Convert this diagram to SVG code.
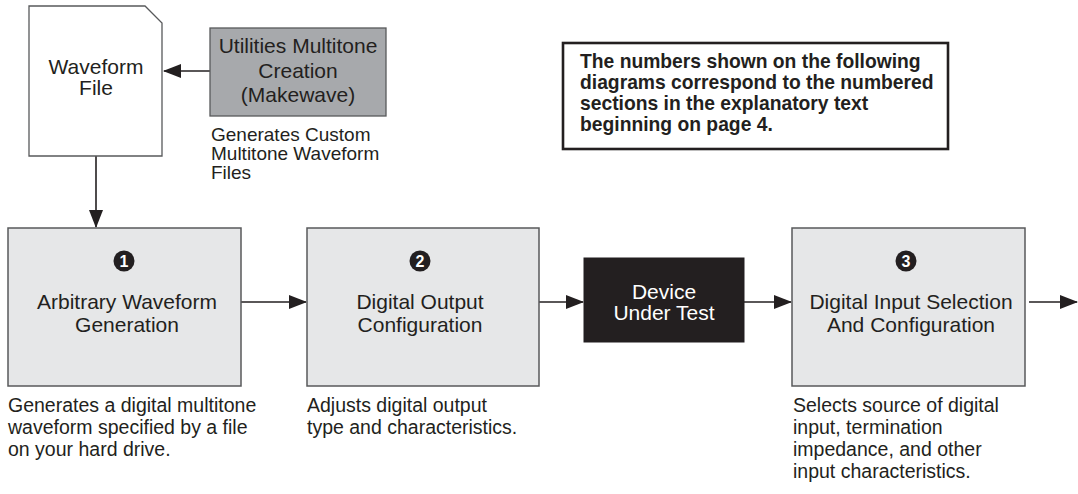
<svg xmlns="http://www.w3.org/2000/svg" width="1078" height="494" viewBox="0 0 1078 494">
<style>
.t{font-family:"Liberation Sans",Arial,Helvetica,sans-serif;fill:#231f20}
.title{font-size:21px;text-anchor:middle}
.cap{font-size:19.5px}
.box{fill:#e6e7e8;stroke:#58595b;stroke-width:1.5}
.ln{stroke:#231f20;stroke-width:1.6;fill:none}
.num{font-family:"Liberation Sans",Arial,sans-serif;font-size:16px;font-weight:bold;fill:#fff;text-anchor:middle}
</style>
<defs>
<marker id="ah" viewBox="0 0 18 14" refX="17" refY="7" markerWidth="18" markerHeight="14" markerUnits="userSpaceOnUse" orient="auto">
<path d="M0,0 L18,7 L0,14 Z" fill="#231f20"/>
</marker>
</defs>
<rect width="1078" height="494" fill="#fff"/>

<g id="connectors">
<line class="ln" x1="210" y1="71" x2="164" y2="71" marker-end="url(#ah)"/>
<line class="ln" x1="96" y1="156" x2="96" y2="227" marker-end="url(#ah)"/>
<line class="ln" x1="241" y1="302" x2="306" y2="302" marker-end="url(#ah)"/>
<line class="ln" x1="539" y1="302" x2="583" y2="302" marker-end="url(#ah)"/>
<line class="ln" x1="744" y1="302" x2="791" y2="302" marker-end="url(#ah)"/>
<line class="ln" x1="1029" y1="302" x2="1077" y2="302" marker-end="url(#ah)"/>
</g>

<g id="waveform-file">
<path d="M29,6 H145 L162,23 V156 H29 Z" fill="#fff" stroke="#58595b" stroke-width="1.3"/>
<text class="t title" x="96" y="74">Waveform</text>
<text class="t title" x="96" y="95">File</text>
</g>

<g id="utilities">
<rect x="210" y="28" width="176" height="88" fill="#a7a9ac" stroke="#58595b" stroke-width="1.3"/>
<text class="t title" x="298" y="53">Utilities Multitone</text>
<text class="t title" x="298" y="78">Creation</text>
<text class="t title" x="298" y="102">(Makewave)</text>
<text class="t" font-size="19" x="211" y="141">Generates Custom</text>
<text class="t" font-size="19" x="211" y="160">Multitone Waveform</text>
<text class="t" font-size="19" x="211" y="179">Files</text>
</g>

<g id="note">
<rect x="563" y="43" width="385" height="106" fill="#fff" stroke="#231f20" stroke-width="2.6"/>
<text class="t" font-size="19.3" font-weight="bold" x="580" y="68">The numbers shown on the following</text>
<text class="t" font-size="19.3" font-weight="bold" x="580" y="89">diagrams correspond to the numbered</text>
<text class="t" font-size="19.3" font-weight="bold" x="580" y="110">sections in the explanatory text</text>
<text class="t" font-size="19.3" font-weight="bold" x="580" y="131">beginning on page 4.</text>
</g>

<g id="node1">
<rect class="box" x="8" y="228" width="233" height="158"/>
<circle cx="124" cy="261" r="10.5" fill="#231f20"/>
<text class="num" x="124" y="266.8">1</text>
<text class="t title" x="127" y="309">Arbitrary Waveform</text>
<text class="t title" x="127" y="332">Generation</text>
<text class="t cap" x="8" y="412">Generates a digital multitone</text>
<text class="t cap" x="8" y="434">waveform specified by a file</text>
<text class="t cap" x="8" y="456">on your hard drive.</text>
</g>

<g id="node2">
<rect class="box" x="307" y="228" width="232" height="158"/>
<circle cx="420" cy="261" r="10.5" fill="#231f20"/>
<text class="num" x="420" y="266.8">2</text>
<text class="t title" x="420" y="309">Digital Output</text>
<text class="t title" x="420" y="332">Configuration</text>
<text class="t cap" x="307" y="412">Adjusts digital output</text>
<text class="t cap" x="307" y="434">type and characteristics.</text>
</g>

<g id="dut">
<rect x="584" y="258" width="160" height="84" fill="#231f20" stroke="#231f20" stroke-width="1"/>
<text class="t title" style="fill:#fff" x="664" y="299">Device</text>
<text class="t title" style="fill:#fff" x="664" y="320">Under Test</text>
</g>

<g id="node3">
<rect class="box" x="792" y="228" width="233" height="158"/>
<circle cx="906" cy="261" r="10.5" fill="#231f20"/>
<text class="num" x="906" y="266.8">3</text>
<text class="t title" x="911" y="309">Digital Input Selection</text>
<text class="t title" x="911" y="332">And Configuration</text>
<text class="t cap" x="793" y="412">Selects source of digital</text>
<text class="t cap" x="793" y="434">input, termination</text>
<text class="t cap" x="793" y="456">impedance, and other</text>
<text class="t cap" x="793" y="478">input characteristics.</text>
</g>
</svg>
